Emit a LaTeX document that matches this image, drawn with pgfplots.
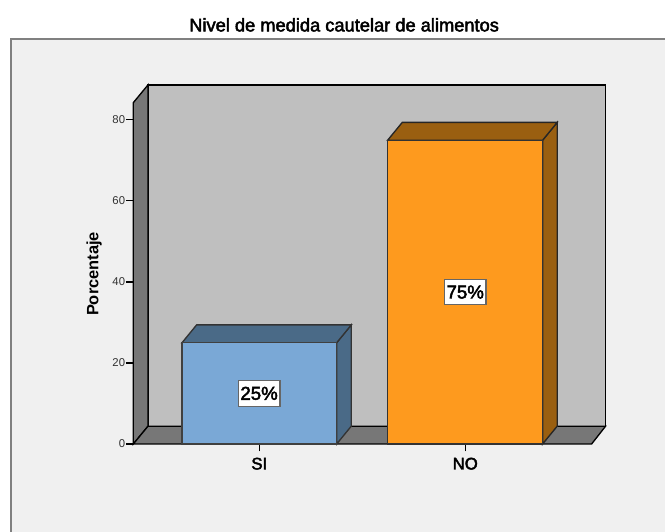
\documentclass[border=0pt]{standalone}
\usepackage{fontspec}
\setmainfont{Liberation Sans}
\newfontfamily\medfont[FakeBold=2.5]{Liberation Sans}
\usepackage{pgfplots}
\pgfplotsset{compat=1.18}

\definecolor{panel}{HTML}{F0F0F0}
\definecolor{framegray}{HTML}{808080}
\definecolor{wall}{HTML}{BFBFBF}
\definecolor{floorgray}{HTML}{777777}
\definecolor{siface}{HTML}{7AA8D6}
\definecolor{siside}{HTML}{4A6A87}
\definecolor{noface}{HTML}{FE9A1E}
\definecolor{noside}{HTML}{9A5F10}

\begin{document}
\begin{tikzpicture}[x=0.75pt,y=0.75pt]
\useasboundingbox (0,0) rectangle (665,532);
\fill[white] (0,0) rectangle (665,532);
% panel runs off the right and bottom edges
\fill[panel] (11,0) rectangle (665,493);
\draw[framegray,line width=1.1pt] (11,0) -- (11,493) -- (665,493);

\begin{axis}[
    at={(100pt,66pt)},
    anchor=south west,
    scale only axis,
    width=343.7pt,
    height=256pt,
    xmin=0, xmax=458.4,
    ymin=0, ymax=84.27,
    clip=false,
    axis line style={draw=none},
    xtick={126,332},
    xticklabels={SI,NO},
    ytick={0,20,40,60,80},
    xtick pos=bottom,
    ytick pos=left,
    tick align=outside,
    major tick length=5.6pt,
    tick style={black,line width=0.8pt},
    xticklabel style={font=\medfont\fontsize{12.6}{14}\selectfont,inner ysep=4.5pt},
    yticklabel style={font=\fontsize{8.5}{10}\selectfont,text=black!80,inner xsep=0.4pt},
    /pgf/number format/assume math mode=true,
    title={\medfont\fontsize{13.7}{15}\selectfont Nivel de medida cautelar de alimentos},
    title style={at={(axis description cs:0.46,1.2045)},anchor=center,inner sep=0pt},
    ylabel={\bfseries\fontsize{12.3}{14}\selectfont Porcentaje},
    ylabel style={at={(axis description cs:-0.0857,0.498)},anchor=center,inner sep=0pt},
]
% back wall
\addplot[fill=wall,draw=black,line width=1pt] coordinates {(14.7,4.4) (472.4,4.4) (472.4,88.67) (14.7,88.67)} --cycle;
% left wall
\addplot[fill=floorgray,draw=black,line width=1pt] coordinates {(0,0) (14.7,4.4) (14.7,88.67) (0,84.27)} --cycle;
% floor
\addplot[fill=floorgray,draw=black,line width=1pt] coordinates {(0,0) (458.4,0) (472.4,4.4) (14.7,4.4)} --cycle;

% SI, 25 %
\addplot[fill=siside,draw=black!80,line width=1pt] coordinates {(203.4,0) (218,4.4) (218,29.4) (203.4,25)} --cycle;
\addplot[fill=siside,draw=black!80,line width=1pt] coordinates {(48.7,25) (203.4,25) (218,29.4) (63.3,29.4)} --cycle;
\addplot[fill=siface,draw=black!75,line width=1pt] coordinates {(48.7,0) (203.4,0) (203.4,25) (48.7,25)} --cycle;

% NO, 75 %
\addplot[fill=noside,draw=black!85,line width=1pt] coordinates {(409.4,0) (424,4.4) (424,79.4) (409.4,75)} --cycle;
\addplot[fill=noside,draw=black!85,line width=1pt] coordinates {(254.4,75) (409.4,75) (424,79.4) (269,79.4)} --cycle;
\addplot[fill=noface,draw=black!80,line width=1pt] coordinates {(254.4,0) (409.4,0) (409.4,75) (254.4,75)} --cycle;

\node[fill=white,draw=black!60,line width=0.9pt,inner xsep=1.6pt,inner ysep=4.6pt,font=\medfont\fontsize{14}{15}\selectfont] at (axis cs:125.8,12.5) {25\%};
\node[fill=white,draw=black!60,line width=0.9pt,inner xsep=1.6pt,inner ysep=4.6pt,font=\medfont\fontsize{14}{15}\selectfont] at (axis cs:332,37.5) {75\%};
\end{axis}
\end{tikzpicture}
\end{document}
